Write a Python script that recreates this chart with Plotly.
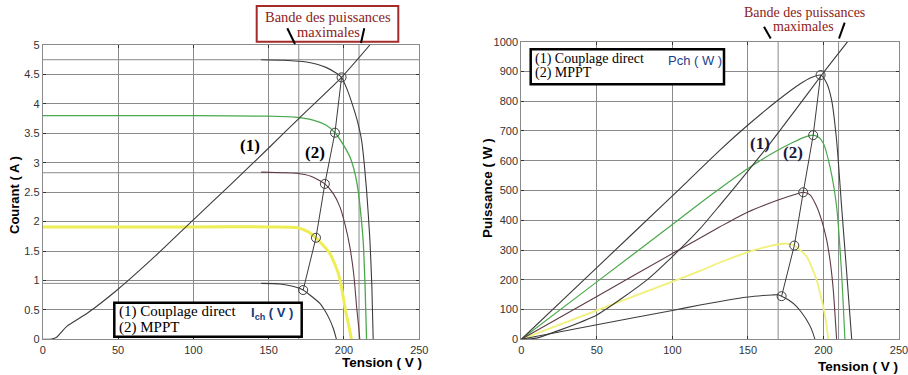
import plotly.graph_objects as go

# ---------------- DATA ----------------
# Left chart: current vs voltage, I(V)
iv_a_v = [145, 160, 175, 188, 195, 198.4, 202, 206.1, 209, 211.7, 215, 217.2, 218.5, 219.4]
iv_a_i = [4.75, 4.74, 4.71, 4.62, 4.52, 4.45, 4.25, 3.95, 3.70, 3.38, 2.53, 1.69, 0.90, 0.0]
iv_g_v = [0, 100, 150, 168.5, 180, 188, 194, 199, 203.9, 207, 209.4, 211.2, 212.7, 214, 215]
iv_g_i = [3.80, 3.80, 3.79, 3.77, 3.72, 3.64, 3.51, 3.33, 3.10, 2.85, 2.53, 2.12, 1.69, 0.90, 0.0]
iv_r_v = [145, 160, 168.5, 178, 187.3, 193, 197.3, 201, 203.9, 206.5, 208.4, 209.6, 210.5]
iv_r_i = [2.84, 2.83, 2.82, 2.77, 2.64, 2.47, 2.25, 1.92, 1.57, 1.10, 0.55, 0.25, 0.0]
iv_y_v = [0, 100, 150, 168.5, 176, 181.4, 186, 190.6, 193.5, 196.2, 198.6, 200.6, 203, 205]
iv_y_i = [1.91, 1.91, 1.91, 1.90, 1.83, 1.725, 1.60, 1.46, 1.30, 1.12, 0.85, 0.55, 0.25, 0.0]
iv_k_v = [145, 157.5, 166, 172.9, 178, 184, 187.5, 190.6, 193, 195]
iv_k_i = [0.95, 0.94, 0.90, 0.837, 0.74, 0.61, 0.48, 0.33, 0.18, 0.0]
load_iv_v = [0, 5, 9, 16, 30, 50, 75, 100, 124.4, 150, 170, 198.4, 217.2]
load_iv_i = [0, 0.0, 0.03, 0.22, 0.45, 0.85, 1.42, 2.03, 2.62, 3.25, 3.75, 4.45, 5.0]
mppt_iv_v = [172.9, 181.4, 187.3, 194, 198.4]
mppt_iv_i = [0.837, 1.725, 2.64, 3.51, 4.45]
isc_levels = [0.95, 2.83, 4.75]

# Right chart: power vs voltage, P(V)
pv_a_v = [0, 50, 100, 131.5, 150, 169, 184.4, 192, 198.1, 202, 205.4, 208.7, 212, 215.4, 218.7]
pv_a_p = [0, 241, 482, 636, 720, 800, 858, 880, 888, 862, 804, 669, 446, 222, 0]
pv_g_v = [0, 50, 100, 118.3, 131.5, 150, 166.8, 180, 188, 193.2, 197, 199.9, 204.3, 208.7, 212, 214.2]
pv_g_p = [0, 193, 386, 457, 507, 574, 627, 662, 680, 686, 678, 659, 580, 446, 222, 0]
pv_r_v = [0, 50, 100, 131.5, 150, 170, 180, 186.6, 191, 195.5, 199, 202.1, 204.5, 206.5, 208.7]
pv_r_p = [0, 144, 288, 378, 428, 468, 485, 494, 486, 446, 396, 334, 260, 166, 0]
pv_y_v = [0, 50, 100, 118.3, 131.5, 150, 165, 173.4, 178, 180.7, 185, 188.9, 192, 195.5, 198, 199.9, 201.8, 203.2]
pv_y_p = [0, 97, 194, 230, 258, 293, 314, 321, 320, 315, 298, 278, 245, 199, 150, 110, 55, 0]
pv_k_v = [0, 50, 100, 118.3, 131.5, 150, 160, 166, 170, 172.3, 177, 182.3, 185.5, 188.9, 192, 194.4]
pv_k_p = [0, 49, 97, 115, 127, 142, 147, 149, 149.5, 145, 132, 110, 90, 65, 35, 0]
load_pv_v = [0, 10, 25, 50, 83, 100, 118, 131.5, 150, 165.7, 180, 198.8, 216]
load_pv_p = [0, 4, 30, 82, 199, 278, 370, 451, 565, 665, 761, 888, 1000]
mppt_pv_v = [172.3, 180.7, 186.6, 193.2, 198.1]
mppt_pv_p = [145, 315, 494, 686, 888]

band_v = [170, 210]

x_ticks = [0, 50, 100, 150, 200, 250]
i_ticks = [0, 0.5, 1, 1.5, 2, 2.5, 3, 3.5, 4, 4.5, 5]
p_ticks = [0, 100, 200, 300, 400, 500, 600, 700, 800, 900, 1000]

# ---------------- STYLE ----------------
W, H = 908, 375
DARK = "#3c3c3c"
RED = "#5e3a48"
GREEN = "#4aa84c"
YEL_L = "#eded55"
YEL_R = "#f0f07a"
GRID = "#8a8a8a"
TXT = "#333333"
SANS = "Liberation Sans, Arial, sans-serif"
SERIF = "Liberation Serif, Times New Roman, serif"


def px(x):
    return x / W


def py(y):
    return 1 - y / H


fig = go.Figure()


def curve(x, y, color, width, xa, ya, shape="spline"):
    fig.add_trace(go.Scatter(x=x, y=y, mode="lines", xaxis=xa, yaxis=ya,
                             line=dict(color=color, width=width, shape=shape, smoothing=0.6),
                             hoverinfo="skip", showlegend=False))


# left chart traces
curve(iv_y_v, iv_y_i, YEL_L, 3, "x", "y")
curve(iv_g_v, iv_g_i, GREEN, 1.3, "x", "y")
curve(iv_r_v, iv_r_i, RED, 1.1, "x", "y")
curve(iv_a_v, iv_a_i, DARK, 1.1, "x", "y")
curve(iv_k_v, iv_k_i, DARK, 1.1, "x", "y")
curve(load_iv_v, load_iv_i, DARK, 1.1, "x", "y")
fig.add_trace(go.Scatter(x=mppt_iv_v, y=mppt_iv_i, mode="lines+markers", xaxis="x", yaxis="y",
                         line=dict(color=DARK, width=1),
                         marker=dict(symbol="circle-open", size=9, color=DARK, line=dict(width=1)),
                         hoverinfo="skip", showlegend=False))

# right chart traces
curve(pv_y_v, pv_y_p, YEL_R, 1.8, "x2", "y2")
curve(pv_g_v, pv_g_p, GREEN, 1.2, "x2", "y2")
curve(pv_r_v, pv_r_p, RED, 1.1, "x2", "y2")
curve(pv_a_v, pv_a_p, DARK, 1.1, "x2", "y2")
curve(pv_k_v, pv_k_p, DARK, 1.1, "x2", "y2")
curve(load_pv_v, load_pv_p, DARK, 1.1, "x2", "y2")
fig.add_trace(go.Scatter(x=mppt_pv_v, y=mppt_pv_p, mode="lines+markers", xaxis="x2", yaxis="y2",
                         line=dict(color=DARK, width=1),
                         marker=dict(symbol="circle-open", size=9, color=DARK, line=dict(width=1)),
                         hoverinfo="skip", showlegend=False))

axis_common = dict(showgrid=True, gridcolor=GRID, gridwidth=1, zeroline=False,
                   showline=True, linecolor=GRID, linewidth=1, mirror="ticks",
                   ticks="inside", ticklen=3, tickcolor=TXT, automargin=False,
                   ticklabeloverflow="allow",
                   tickfont=dict(family=SANS, size=11, color=TXT), fixedrange=True)

fig.update_layout(
    width=W, height=H, margin=dict(l=0, r=0, t=0, b=0, pad=0, autoexpand=False),
    paper_bgcolor="white", plot_bgcolor="white", showlegend=False,
    xaxis=dict(domain=[px(42.7), px(419.3)], range=[0, 250], tickvals=x_ticks,
               anchor="y", **axis_common),
    yaxis=dict(domain=[py(339.3), py(45)], range=[0, 5], tickvals=i_ticks,
               anchor="x", **axis_common),
    xaxis2=dict(domain=[px(521.3), px(899)], range=[0, 250], tickvals=x_ticks,
                anchor="y2", **axis_common),
    yaxis2=dict(domain=[py(339.3), py(41.7)], range=[0, 1000], tickvals=p_ticks,
                anchor="x2", **axis_common),
)

shapes = []
# extra grid lines: band of maximum powers and short-circuit levels
for v in band_v:
    shapes.append(dict(type="line", xref="x", yref="y", x0=v, x1=v, y0=0, y1=5,
                       line=dict(color=GRID, width=1), layer="below"))
    shapes.append(dict(type="line", xref="x2", yref="y2", x0=v, x1=v, y0=0, y1=1000,
                       line=dict(color=GRID, width=1), layer="below"))
for lev in isc_levels:
    shapes.append(dict(type="line", xref="x", yref="y", x0=0, x1=250, y0=lev, y1=lev,
                       line=dict(color=GRID, width=1), layer="below"))

# left: red-framed band label box
shapes.append(dict(type="rect", xref="paper", yref="paper",
                   x0=px(256.7), x1=px(398.3), y0=py(41.7), y1=py(6),
                   line=dict(color="#a52a2a", width=2), fillcolor="white"))
# slashes pointing at the band
for (xa, ya, xb, yb) in [(287.3, 28.3, 295, 44), (364.3, 28.3, 361, 43),
                         (764, 26.7, 770.7, 38.5), (844.7, 22.7, 839, 38.5)]:
    shapes.append(dict(type="line", xref="paper", yref="paper",
                       x0=px(xa), y0=py(ya), x1=px(xb), y1=py(yb),
                       line=dict(color="black", width=2)))
# legend boxes
shapes.append(dict(type="rect", xref="paper", yref="paper",
                   x0=px(114.3), x1=px(301.7), y0=py(336.7), y1=py(302.7),
                   line=dict(color="black", width=2.5), fillcolor="white"))
shapes.append(dict(type="rect", xref="paper", yref="paper",
                   x0=px(530.7), x1=px(724), y0=py(84.3), y1=py(49.3),
                   line=dict(color="black", width=2.5), fillcolor="white"))
fig.update_layout(shapes=shapes)

ann = []


def text(x, y, s, size, color="black", family=SERIF, xanchor="center", angle=0):
    ann.append(dict(xref="paper", yref="paper", x=px(x), y=py(y), text=s, showarrow=False,
                    xanchor=xanchor, yanchor="middle", textangle=angle, borderpad=0,
                    font=dict(family=family, size=size, color=color)))


DRED = "#8b1c1c"
text(327.5, 16.5, "Bande des puissances", 14.5, DRED)
text(328, 32.3, "maximales", 14.5, DRED)
text(804, 12, "Bande des puissances", 14, DRED)
text(803, 26.5, "maximales", 14, DRED)

text(118, 311, "(1) Couplage direct", 15, xanchor="left")
text(118, 327.5, "(2) MPPT", 15, xanchor="left")
text(250, 313, "<b>I<sub>ch</sub> ( V )</b>", 13, "#1a3a7a", SANS, xanchor="left")

text(534, 58.8, "(1) Couplage direct", 14, xanchor="left")
text(534, 73.5, "(2) MPPT", 14, xanchor="left")
text(667, 60, "Pch ( W )", 13, "#1c3f8c", SANS, xanchor="left")

text(250, 145, "<b>(1)</b>", 17)
text(315, 153, "<b>(2)</b>", 17)
text(760, 143, "<b>(1)</b>", 17, "#1a1a3a")
text(793, 152, "<b>(2)</b>", 17, "#1a1a3a")

text(423, 362, "<b>Tension ( V )</b>", 13.5, "black", SANS, xanchor="right")
text(899, 366.5, "<b>Tension ( V )</b>", 13.5, "black", SANS, xanchor="right")
text(14, 195, "<b>Courant ( A )</b>", 13, "black", SANS, angle=-90)
text(487, 188, "<b>Puissance ( W )</b>", 13.5, "black", SANS, angle=-90)

fig.update_layout(annotations=ann)

fig.write_html("out.html")
